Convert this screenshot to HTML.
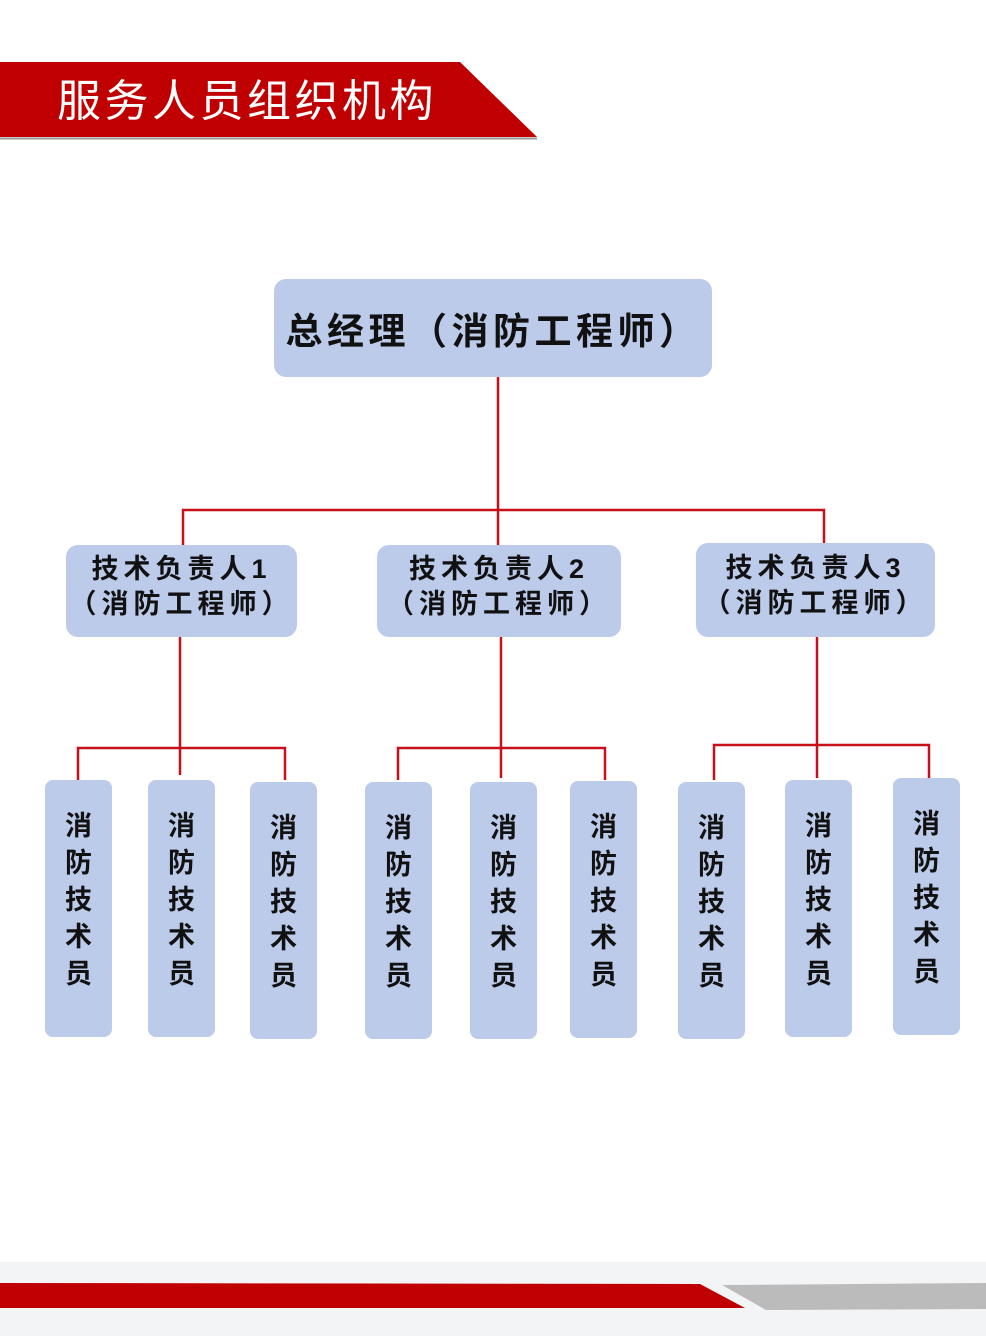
<!DOCTYPE html>
<html><head><meta charset="utf-8"><style>
body{margin:0;width:986px;height:1336px;position:relative;background:#fff;overflow:hidden;font-family:"Liberation Sans","Noto Sans CJK SC",sans-serif}
.b{position:absolute;background:#bccbea;border-radius:12px;color:#111;font-weight:bold;display:flex;align-items:center;justify-content:center;text-align:center;white-space:nowrap}
.m{font-size:27px;line-height:35px;letter-spacing:5px;padding-bottom:8px;box-sizing:border-box}
.t{width:67px;font-size:27px;line-height:37px;border-radius:8px;padding-bottom:16px;box-sizing:border-box}
</style></head><body>
<svg width="986" height="1336" style="position:absolute;left:0;top:0">
<polygon points="0,62 460,62 537,137 0,137" fill="#c00000"/>
<line x1="0" y1="138.5" x2="537" y2="138.5" stroke="#999" stroke-width="2"/>
<rect x="0" y="1262" width="986" height="74" fill="#f3f4f6"/>
<polygon points="0,1283 700,1284 745,1308 0,1308" fill="#c00000"/>
<polygon points="722,1285 986,1283 986,1309 766,1310" fill="#bbb"/>
<g stroke="#c8101a" stroke-width="2.5" fill="none">
<path d="M498 377V545M183 545V510H824V545"/>
<path d="M180 637V775M78 780V748H285V780"/>
<path d="M501 637V778M398 780V748H605V780"/>
<path d="M817 637V778M714 780V745H929V780"/>
</g>
</svg>
<div style="position:absolute;left:57px;top:74px;color:#fff;font-size:44px;line-height:56px;letter-spacing:3.5px">服务人员组织机构</div>
<div class="b" style="left:274px;top:279px;width:438px;height:98px;font-size:37px;letter-spacing:4.5px">总经理（消防工程师）</div>
<div class="b m" style="left:66px;top:545px;width:231px;height:92px">技术负责人1<br>（消防工程师）</div>
<div class="b m" style="left:377px;top:545px;width:244px;height:92px">技术负责人2<br>（消防工程师）</div>
<div class="b m" style="left:696px;top:543px;width:239px;height:94px">技术负责人3<br>（消防工程师）</div>
<div class="b t" style="left:45px;top:780px;height:257px">消<br>防<br>技<br>术<br>员</div>
<div class="b t" style="left:148px;top:780px;height:257px">消<br>防<br>技<br>术<br>员</div>
<div class="b t" style="left:250px;top:782px;height:257px">消<br>防<br>技<br>术<br>员</div>
<div class="b t" style="left:365px;top:782px;height:257px">消<br>防<br>技<br>术<br>员</div>
<div class="b t" style="left:470px;top:782px;height:257px">消<br>防<br>技<br>术<br>员</div>
<div class="b t" style="left:570px;top:781px;height:257px">消<br>防<br>技<br>术<br>员</div>
<div class="b t" style="left:678px;top:782px;height:257px">消<br>防<br>技<br>术<br>员</div>
<div class="b t" style="left:785px;top:780px;height:257px">消<br>防<br>技<br>术<br>员</div>
<div class="b t" style="left:893px;top:778px;height:257px">消<br>防<br>技<br>术<br>员</div>
</body></html>
